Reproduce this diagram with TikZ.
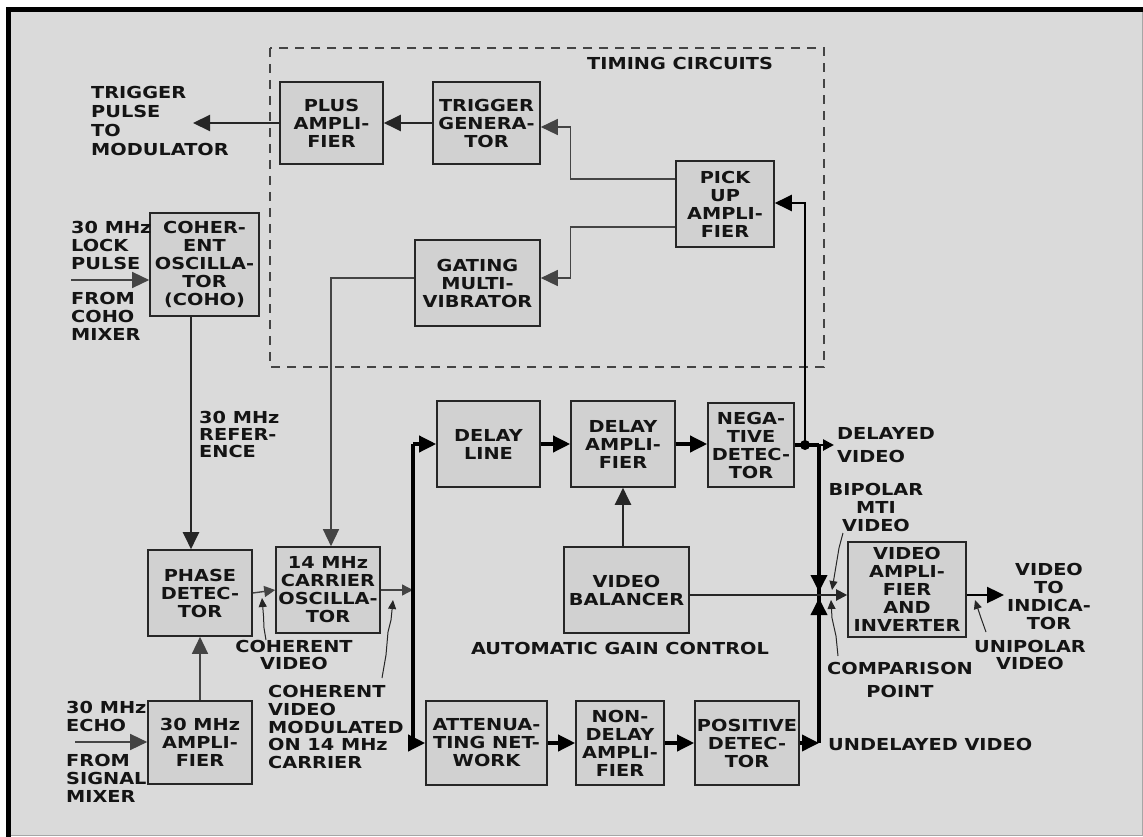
\documentclass[tikz,border=0pt]{standalone}
\usepackage{fontspec}
\newfontfamily\dgfont{DejaVu Sans}[FakeStretch=1.17]
\usetikzlibrary{arrows.meta}
\definecolor{bg}{HTML}{DADADA}
\definecolor{boxfill}{HTML}{D1D1D1}
\definecolor{ln}{HTML}{444444}
\tikzset{
  txt/.style={font=\dgfont\bfseries\fontsize{16.5}{18}\selectfont, inner sep=0pt, text=black!92},
  lbl/.style={txt, align=left},
  clbl/.style={txt, align=center},
  blk/.style={txt, draw=black!85, fill=boxfill, line width=1.6pt, align=center},
  bigtip/.style={-{Triangle[length=17pt,width=16pt]}},
  smalltip/.style={-{Triangle[length=11pt,width=11pt]}},
  thinln/.style={draw=ln, line width=1.4pt},
  medln/.style={draw=black!85, line width=2.1pt},
  thickln/.style={draw=black, line width=3.6pt},
  leader/.style={draw=black!85, line width=1pt, -{Triangle[length=9pt,width=8pt]}},
  dashbox/.style={draw=ln, line width=1.6pt, dash pattern=on 9pt off 7pt},
}
\begin{document}
\begin{tikzpicture}[x=1pt,y=-1pt]
\useasboundingbox (0,0) rectangle (1143,837);
\fill[white] (0,0) rectangle (1143,837);
\fill[bg, draw=gray!70, line width=1pt] (8,9) rectangle (1142,835);
\fill[black] (6,7) rectangle (1143,12);
\fill[black] (6,7) rectangle (11,837);

% timing circuits frame
\draw[dashbox] (270,48) rectangle (824,367);
\node[lbl, anchor=west] (timing) at (587,63) {TIMING CIRCUITS};

% blocks
\node[blk, minimum width=103pt, minimum height=82pt] (plus) at (331.5,123) {PLUS\\AMPLI-\\FIER};
\node[blk, minimum width=107pt, minimum height=82pt] (trig) at (486.5,123) {TRIGGER\\GENERA-\\TOR};
\node[blk, minimum width=98pt, minimum height=86pt] (pick) at (725,204) {PICK\\UP\\AMPLI-\\FIER};
\node[blk, minimum width=125pt, minimum height=86pt] (gate) at (477.5,283) {GATING\\MULTI-\\VIBRATOR};
\node[blk, minimum width=109pt, minimum height=103pt] (coho) at (204.5,264.5) {COHER-\\ENT\\OSCILLA-\\TOR\\(COHO)};
\node[blk, minimum width=104pt, minimum height=86pt] (phase) at (200,593) {PHASE\\DETEC-\\TOR};
\node[blk, minimum width=104pt, minimum height=86pt] (carr) at (328,590) {14 MHz\\CARRIER\\OSCILLA-\\TOR};
\node[blk, minimum width=104pt, minimum height=83pt] (amp) at (200,742.5) {30 MHz\\AMPLI-\\FIER};
\node[blk, minimum width=103pt, minimum height=86pt] (dline) at (488.5,444) {DELAY\\LINE};
\node[blk, minimum width=104pt, minimum height=86pt] (damp) at (623,444) {DELAY\\AMPLI-\\FIER};
\node[blk, minimum width=86pt, minimum height=84pt] (neg) at (751,445) {NEGA-\\TIVE\\DETEC-\\TOR};
\node[blk, minimum width=125pt, minimum height=86pt] (bal) at (626.5,590) {VIDEO\\BALANCER};
\node[blk, minimum width=121pt, minimum height=84pt] (att) at (486.5,743) {ATTENUA-\\TING NET-\\WORK};
\node[blk, minimum width=88pt, minimum height=84pt] (ndamp) at (620,743) {NON-\\DELAY\\AMPLI-\\FIER};
\node[blk, minimum width=104pt, minimum height=84pt] (pos) at (747,743) {POSITIVE\\DETEC-\\TOR};
\node[blk, minimum width=118pt, minimum height=95pt] (vamp) at (907,589.5) {VIDEO\\AMPLI-\\FIER\\AND\\INVERTER};

% free labels
\node[lbl, anchor=west, font=\dgfont\bfseries\fontsize{16.5}{19.3}\selectfont] (trigout) at (91,121) {TRIGGER\\PULSE\\TO\\MODULATOR};
\node[lbl, anchor=west] (lock) at (71,245) {30 MHz\\LOCK\\PULSE};
\node[lbl, anchor=west] (cohomix) at (71,316) {FROM\\COHO\\MIXER};
\node[lbl, anchor=west, font=\dgfont\bfseries\fontsize{16.5}{17}\selectfont] (ref) at (199,434) {30 MHz\\REFER-\\ENCE};
\node[lbl, anchor=west] (echo) at (66,716) {30 MHz\\ECHO};
\node[lbl, anchor=west] (sigmix) at (66,778) {FROM\\SIGNAL\\MIXER};
\node[clbl, font=\dgfont\bfseries\fontsize{16.5}{16.5}\selectfont] (cv) at (294,655) {COHERENT\\VIDEO};
\node[lbl, anchor=west, font=\dgfont\bfseries\fontsize{16.5}{17.7}\selectfont] (cvm) at (268,727) {COHERENT\\VIDEO\\MODULATED\\ON 14 MHz\\CARRIER};
\node[clbl] (agc) at (620,648) {AUTOMATIC GAIN CONTROL};
\node[lbl, anchor=west, font=\dgfont\bfseries\fontsize{16.5}{22.5}\selectfont] (dv) at (837,445) {DELAYED\\VIDEO};
\node[clbl] (bip) at (876,507) {BIPOLAR\\MTI\\VIDEO};
\node[clbl] (vti) at (1049,596) {VIDEO\\TO\\INDICA-\\TOR};
\node[clbl, font=\dgfont\bfseries\fontsize{16.5}{16.7}\selectfont] (uni) at (1030,655) {UNIPOLAR\\VIDEO};
\node[clbl, font=\dgfont\bfseries\fontsize{16.5}{23}\selectfont] (cmp) at (900,680) {COMPARISON\\POINT};
\node[lbl, anchor=west] (udv) at (828,744) {UNDELAYED VIDEO};

% coordinates
\coordinate (tpout) at (193,123);
\coordinate (lockin) at (71,280);
\coordinate (echoin) at (75,742);
\coordinate (bustop) at (413,444);
\coordinate (busmid) at (413,590);
\coordinate (busbot) at (413,743);
\coordinate (jdot) at (805,445);
\coordinate (rtop) at (819,445);
\coordinate (rbot) at (819,743);
\coordinate (dvout) at (834,445);
\coordinate (cp) at (819,595);
\coordinate (vout) at (1004,595);

% timing connectors
\draw[medln, bigtip] (trig.west) -- (plus.east);
\draw[medln, bigtip] (plus.west) -- (tpout);
\draw[thinln, bigtip] ([yshift=25pt]pick.west) -- ++(-105,0) |- ([yshift=-4pt]trig.east);
\draw[thinln, bigtip] ([yshift=-23pt]pick.west) -- ++(-105,0) |- ([yshift=5pt]gate.east);
\draw[thinln, bigtip] ([yshift=5pt]gate.west) -| ([xshift=3pt]carr.north);
\draw[line width=2.4pt, bigtip] (jdot) |- ([yshift=1pt]pick.east);

% left side
\draw[thinln, bigtip] (lockin) -- (lockin -| coho.west);
\draw[medln, bigtip] ([xshift=-13.5pt]coho.south) -- ([xshift=-13.5pt]coho.south |- phase.north);
\draw[thinln, bigtip] (echoin) -- (echoin -| amp.west);
\draw[thinln, bigtip] (amp.north) -- (phase.south);
\draw[thinln, smalltip] (phase.east) -- (carr.west);
\draw[thinln, smalltip] (carr.east) -- (busmid);

% buses
\draw[thickln] (bustop) -- (busbot);
\draw[thickln, bigtip] (bustop) -- (dline.west);
\draw[thickln, bigtip] (busbot) -- (att.west);
\draw[thickln, bigtip] (dline.east) -- (damp.west);
\draw[thickln, bigtip] (damp.east) -- (neg.west |- damp.east);
\draw[medln, bigtip] (bal.north -| damp.south) -- (damp.south);
\draw[thickln, bigtip] (att.east) -- (ndamp.west);
\draw[thickln, bigtip] (ndamp.east) -- (pos.west);
\draw[thickln, bigtip] (pos.east) -- (rbot);
\draw[thickln] (neg.east) -- (rtop);
\draw[line width=2.6pt, smalltip] (rtop) -- (dvout);
\fill (jdot) circle (5pt);
\draw[thickln] (rtop) -- (rbot);
\draw[thickln, bigtip] (rtop) -- ([yshift=3pt]cp);
\draw[thickln, bigtip] (rbot) -- ([yshift=-3pt]cp);

% video balancer to video amp
\draw[medln, smalltip] ([yshift=-5pt]bal.east) -- ([yshift=-5pt]bal.east -| vamp.west);
\draw[line width=2.4pt, bigtip] ([yshift=-5.5pt]vamp.east) -- (vout);

% leaders
\coordinate (l1s) at (266,640);
\coordinate (l1e) at (262,598);
\draw[leader] (l1s) -- (264,628) -- (263.5,616) -- (l1e);
\coordinate (l2s) at (382,678);
\coordinate (l2e) at (393,600);
\draw[leader] (l2s) -- (386,655) -- (388,632) -- (391,620) -- (l2e);
\coordinate (l3s) at (843,533);
\coordinate (l3e) at (832,590);
\draw[leader] (l3s) -- (839,548) -- (836,566) -- (834,578) -- (l3e);
\coordinate (l4s) at (838,656);
\coordinate (l4e) at (831,600);
\draw[leader] (l4s) -- (836,636) -- (832,618) -- (l4e);
\coordinate (l5s) at (986,632);
\coordinate (l5e) at (975,600);
\draw[leader] (l5s) -- (981,618) -- (l5e);
\end{tikzpicture}
\end{document}
